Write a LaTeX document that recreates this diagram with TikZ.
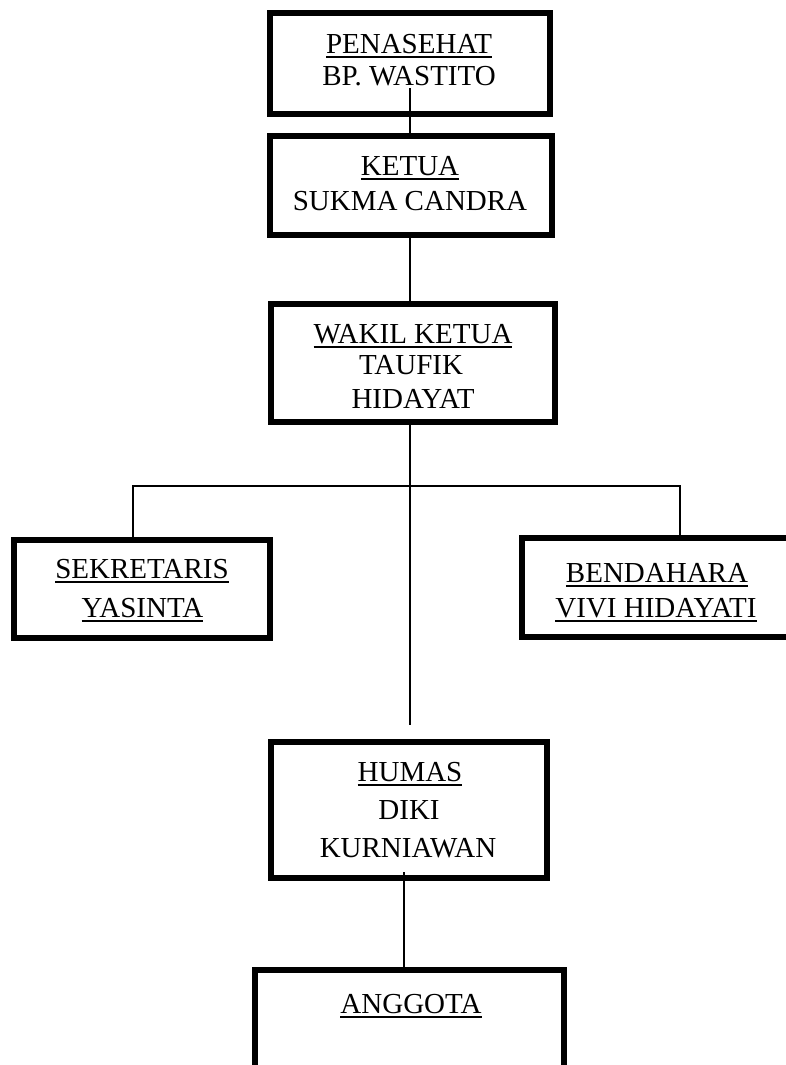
\documentclass[tikz,border=0pt]{standalone}
\usepackage{fontspec}
\setmainfont{Liberation Serif}
\newcommand\myul[1]{\leavevmode\setbox0\hbox{#1}\rlap{\rule[-5pt]{\wd0}{1.7pt}}\box0}
\begin{document}
\begin{tikzpicture}[x=1pt,y=-1pt,
  box/.style={draw,line width=6pt,rectangle,inner sep=0pt,outer sep=0pt},
  conn/.style={draw,line width=1.5pt},
  lbl/.style={anchor=base,inner sep=0pt,font=\fontsize{29}{34}\selectfont}]
\useasboundingbox (0,0) rectangle (785,1065);
% boxes
\node[box,minimum width=280pt,minimum height=101pt] (pen) at (410,63.5) {};
\node[box,minimum width=282pt,minimum height=99pt] (ket) at (411,185.5) {};
\node[box,minimum width=284pt,minimum height=118pt] (wak) at (413,363) {};
\node[box,minimum width=256pt,minimum height=98pt] (sek) at (142,589) {};
\node[box,minimum width=283pt,minimum height=99pt] (ben) at (663.5,587.5) {};
\node[box,minimum width=276pt,minimum height=136pt] (hum) at (409,810) {};
\node[box,minimum width=309pt,minimum height=140pt] (ang) at (409.5,1040) {};
% texts
\node[lbl] (t1) at (409,53) {\myul{PENASEHAT}};
\node[lbl] (t2) at (409,85) {BP. WASTITO};
\node[lbl] (t3) at (410,175) {\myul{KETUA}};
\node[lbl] (t4) at (410,210) {SUKMA CANDRA};
\node[lbl] (t5) at (413,343) {\myul{WAKIL KETUA}};
\node[lbl] (t6) at (411,374) {TAUFIK};
\node[lbl] (t7) at (413,408) {HIDAYAT};
\node[lbl] (t8) at (142,578) {\myul{SEKRETARIS}};
\node[lbl] (t9) at (142.5,617) {\myul{YASINTA}};
\node[lbl] (t10) at (657,582) {\myul{BENDAHARA}};
\node[lbl] (t11) at (656,617) {\myul{VIVI HIDAYATI}};
\node[lbl] (t12) at (410,781) {\myul{HUMAS}};
\node[lbl] (t13) at (409,819) {DIKI};
\node[lbl] (t14) at (408,857) {KURNIAWAN};
\node[lbl] (t15) at (411,1013) {\myul{ANGGOTA}};
% connector coordinates
\coordinate (penend) at (410,88);
\coordinate (spine) at (410,0);
\coordinate (wakend) at (410,725);
\coordinate (bl) at (133,486);
\coordinate (brr) at (680,486);
\coordinate (humend) at (404,872);
% connectors
\draw[conn] (penend) -- (penend |- ket.north);
\draw[conn] (spine |- ket.south) -- (spine |- wak.north);
\draw[conn] (spine |- wak.south) -- (wakend);
\draw[conn] (bl |- sek.north) -- (bl) -- (brr) -- (brr |- ben.north);
\draw[conn] (humend) -- (humend |- ang.north);
\end{tikzpicture}
\end{document}
